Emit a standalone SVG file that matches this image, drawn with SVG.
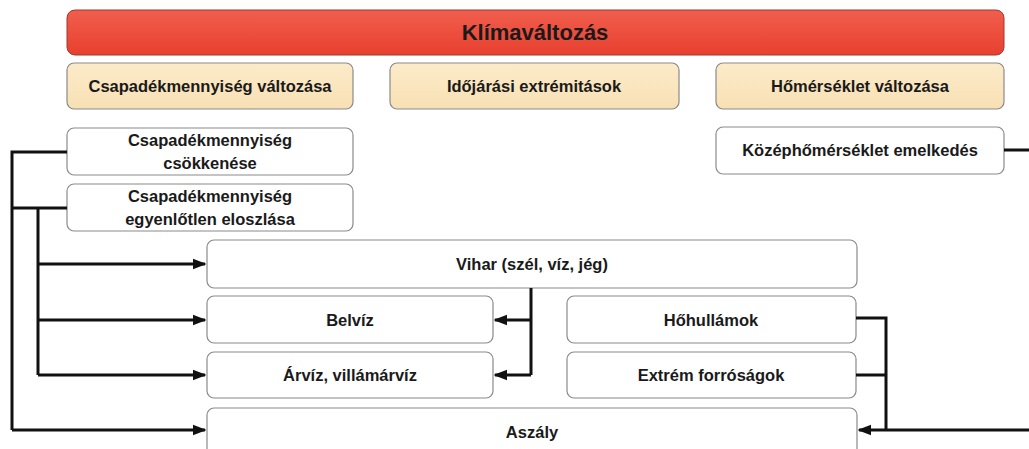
<svg xmlns="http://www.w3.org/2000/svg" width="1029" height="449" viewBox="0 0 1029 449">
<defs>
<linearGradient id="red" x1="0" y1="0" x2="0" y2="1">
<stop offset="0" stop-color="#f15e4d"/>
<stop offset="1" stop-color="#e8402f"/>
</linearGradient>
<linearGradient id="beige" x1="0" y1="0" x2="0" y2="1">
<stop offset="0" stop-color="#fcebc9"/>
<stop offset="1" stop-color="#f8e0b4"/>
</linearGradient>
<marker id="arr" viewBox="0 0 10 10" refX="9" refY="5" markerWidth="4.5" markerHeight="4.5" orient="auto" markerUnits="strokeWidth">
<path d="M0,1 L10,5 L0,9 Z" fill="#111"/>
</marker>
</defs>
<style>
text{font-family:"Liberation Sans",Arial,sans-serif;font-weight:bold;fill:#1a1a1a;text-anchor:middle;dominant-baseline:central}
.box{fill:#fff;stroke:#8a8a8a;stroke-width:1.2}
.beige{fill:url(#beige);stroke:#8a8a8a;stroke-width:1.2}
.red{fill:url(#red);stroke:#9a3a30;stroke-width:1}
.t{font-size:16.5px}
.c{fill:none;stroke:#111;stroke-width:3}
.ca{fill:none;stroke:#111;stroke-width:3;marker-end:url(#arr)}
</style>
<rect width="1029" height="449" fill="#fff"/>
<g id="klima"><rect class="red" x="67" y="10" width="937" height="45" rx="8"/><text x="535" y="32" font-size="22">Klímaváltozás</text></g>
<g id="csapadek"><rect class="beige" x="67" y="63" width="286" height="46" rx="7"/><text class="t" x="210" y="86">Csapadékmennyiség változása</text></g>
<g id="idojaras"><rect class="beige" x="390" y="63" width="289" height="46" rx="7"/><text class="t" x="534" y="86">Időjárási extrémitások</text></g>
<g id="homerseklet"><rect class="beige" x="716" y="63" width="288" height="46" rx="7"/><text class="t" x="860" y="86">Hőmérséklet változása</text></g>
<g id="csokkenes"><rect class="box" x="67" y="128" width="286" height="47" rx="7"/><text class="t" x="210" y="140">Csapadékmennyiség</text><text class="t" x="210" y="163">csökkenése</text></g>
<g id="egyenlotlen"><rect class="box" x="67" y="184" width="286" height="47" rx="7"/><text class="t" x="210" y="196">Csapadékmennyiség</text><text class="t" x="210" y="219">egyenlőtlen eloszlása</text></g>
<g id="kozephomerseklet"><rect class="box" x="716" y="127" width="288" height="47" rx="7"/><text class="t" x="860" y="150">Középhőmérséklet emelkedés</text></g>
<g id="vihar"><rect class="box" x="207" y="240" width="650" height="48" rx="7"/><text class="t" x="532" y="264">Vihar (szél, víz, jég)</text></g>
<g id="belviz"><rect class="box" x="207" y="296" width="286" height="47" rx="7"/><text class="t" x="350" y="320">Belvíz</text></g>
<g id="arviz"><rect class="box" x="207" y="352" width="286" height="46" rx="7"/><text class="t" x="350" y="375">Árvíz, villámárvíz</text></g>
<g id="hohullamok"><rect class="box" x="567" y="296" width="289" height="47" rx="7"/><text class="t" x="711" y="320">Hőhullámok</text></g>
<g id="extrem"><rect class="box" x="567" y="352" width="289" height="46" rx="7"/><text class="t" x="711" y="375">Extrém forróságok</text></g>
<g id="aszaly"><rect class="box" x="207" y="408" width="650" height="60" rx="7"/><text class="t" x="532" y="432">Aszály</text></g>
<g id="connectors">
<path class="c" d="M67,152 H12 V430"/>
<path class="ca" d="M12,430 H205"/>
<path class="c" d="M67,208 H12"/>
<path class="c" d="M38,208 V375"/>
<path class="ca" d="M38,264 H205"/>
<path class="ca" d="M38,320 H205"/>
<path class="ca" d="M38,375 H205"/>
<path class="c" d="M531,288 V375"/>
<path class="ca" d="M531,320 H495"/>
<path class="ca" d="M531,375 H495"/>
<path class="c" d="M856,318 H886 V430"/>
<path class="c" d="M856,375 H886"/>
<path class="c" d="M1004,150 H1034 V430 H886"/>
<path class="ca" d="M886,430 H859"/>
</g>
</svg>
